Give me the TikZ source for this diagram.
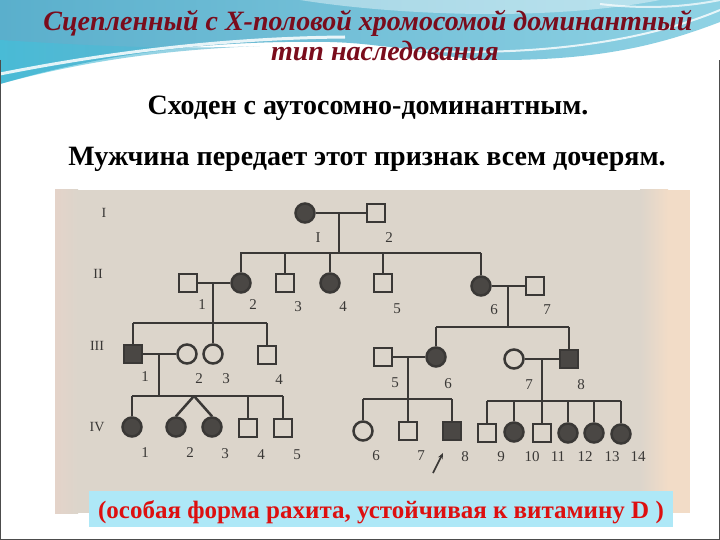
\documentclass[tikz,border=0pt]{standalone}
\usepackage{fontspec}
\setmainfont{Liberation Serif}
\usetikzlibrary{arrows.meta}
\definecolor{pedline}{HTML}{3A3836}
\definecolor{pedfill}{HTML}{4A4744}
\definecolor{scanbg}{HTML}{DCD5CB}
\definecolor{scanpeach}{HTML}{F2DCC7}
\definecolor{scanpink}{HTML}{E4D3C9}
\definecolor{titlered}{HTML}{7A0C1C}
\definecolor{capblue}{HTML}{AEE8F7}
\definecolor{capred}{HTML}{DD1010}
\definecolor{topA}{HTML}{5AAFCC}
\definecolor{topB}{HTML}{8FD2E4}
\definecolor{topC}{HTML}{3FC3DD}
\begin{document}
\begin{tikzpicture}[x=1pt,y=-1pt,
  male/.style={rectangle,draw=pedline,line width=2.5pt,minimum size=18pt,inner sep=0pt,fill=scanbg},
  female/.style={circle,draw=pedline,line width=2.5pt,minimum size=19pt,inner sep=0pt,fill=scanbg},
  aff/.style={fill=pedfill},
  rel/.style={draw=pedline,line width=2.5pt},
  lbl/.style={font=\fontsize{15}{15}\selectfont,text=pedline,inner sep=0pt,anchor=base},
  genlbl/.style={font=\fontsize{14}{14}\selectfont,text=pedline,inner sep=0pt,anchor=base},
  ]
\useasboundingbox (0,0) rectangle (720,540);
\fill[white] (0,0) rectangle (720,540);
% top decorative background
\shade[left color=topA, right color=topB] (0,0) -- (720,0) -- (720,22)
  .. controls (660,45) and (600,60) .. (500,60)
  .. controls (440,60) and (400,44) .. (330,42)
  .. controls (200,40) and (100,55) .. (0,84) -- cycle;
\shade[left color=topC, right color=topA, opacity=0.6] (0,40) .. controls (80,45) and (160,50) .. (260,46)
  .. controls (160,50) and (80,62) .. (0,84) -- cycle;
\fill[white,opacity=0.4] (300,0) .. controls (350,8) and (420,14) .. (490,14)
  .. controls (560,14) and (620,8) .. (660,0) -- cycle;
\draw[white,line width=3pt,opacity=0.85] (0,74) .. controls (100,54) and (220,38) .. (345,37);
\draw[white,line width=2pt,opacity=0.8] (380,47) .. controls (480,58) and (620,52) .. (720,10);
\draw[white,line width=2pt,opacity=0.7] (600,4) .. controls (650,10) and (690,6) .. (720,0);
% frame
\draw[gray!60!black,line width=1pt] (0.5,60) -- (0.5,539.5) -- (719.5,539.5) -- (719.5,60);
% titles
\node[font=\fontsize{28}{28}\selectfont\bfseries\itshape,text=titlered,inner sep=0pt,anchor=base] (title1) at (368,31) {Сцепленный с Х-половой хромосомой доминантный};
\node[font=\fontsize{28}{28}\selectfont\bfseries\itshape,text=titlered,inner sep=0pt,anchor=base] (title2) at (385,61) {тип наследования};
\node[font=\fontsize{28}{28}\selectfont\bfseries,inner sep=0pt,anchor=base] (line1) at (368,115) {Сходен с аутосомно-доминантным.};
\node[font=\fontsize{28}{28}\selectfont\bfseries,inner sep=0pt,anchor=base] (line2) at (367,166) {Мужчина передает этот признак всем дочерям.};
% scanned figure background
\fill[scanbg] (55,190) rectangle (690,513);
\shade[left color=scanpink,right color=scanbg] (55,190) rectangle (78,513);
\shade[left color=scanbg,right color=scanpeach] (640,190) rectangle (668,513);
\fill[scanpeach] (668,190) rectangle (690,513);
% generation labels
\node[genlbl] (gI) at (104,218) {I};
\node[genlbl] (gII) at (98,278) {II};
\node[genlbl] (gIII) at (97,350) {III};
\node[genlbl] (gIV) at (97,431) {IV};
% Generation I
\node[female,aff] (I1) at (305,213) {};
\node[male] (I2) at (376,213) {};
\draw[rel] (I1) -- (I2);
\coordinate (m1) at (339,213);
\coordinate (s1L) at (240,253);
\coordinate (s1R) at (481,253);
\draw[rel] (m1) -- (m1 |- s1L);
\draw[rel] (s1L) -- (s1R);
\node[lbl] (lI1) at (318,243) {I};
\node[lbl] (lI2) at (389,243) {2};
% Generation II
\node[male] (II1) at (188,283) {};
\node[female,aff] (II2) at (241,283) {};
\node[male] (II3) at (285,283) {};
\node[female,aff] (II4) at (330,283) {};
\node[male] (II5) at (383,283) {};
\node[female,aff] (II6) at (481,286) {};
\node[male] (II7) at (535,286) {};
\foreach \p in {II2,II3,II4,II5,II6} \draw[rel] (\p.north) -- (\p.north |- s1L);
\draw[rel] (II1) -- (II2);
\draw[rel] (II6) -- (II7);
\node[lbl] (lII1) at (202,309) {1};
\node[lbl] (lII2) at (253,309) {2};
\node[lbl] (lII3) at (298,311) {3};
\node[lbl] (lII4) at (343,311) {4};
\node[lbl] (lII5) at (397,313) {5};
\node[lbl] (lII6) at (494,314) {6};
\node[lbl] (lII7) at (547,314) {7};
% Generation III (left)
\coordinate (m2) at (213,283);
\coordinate (s2L) at (133,323);
\coordinate (s2R) at (267,323);
\node[male,aff] (III1) at (133,354) {};
\node[female] (III2) at (187,354) {};
\node[female] (III3) at (213,354) {};
\node[male] (III4) at (267,355) {};
\draw[rel] (m2) -- (III3.north);
\draw[rel] (s2L) -- (s2R);
\draw[rel] (III1.north) -- (III1.north |- s2L);
\draw[rel] (III4.north) -- (III4.north |- s2L);
\draw[rel] (III1) -- (III2);
\node[lbl] (lIII1) at (145,381) {1};
\node[lbl] (lIII2) at (199,383) {2};
\node[lbl] (lIII3) at (226,383) {3};
\node[lbl] (lIII4) at (279,384) {4};
% Generation IV (left)
\coordinate (m3) at (159,354);
\coordinate (s3L) at (132,396);
\coordinate (s3R) at (283,396);
\coordinate (tw) at (194,396);
\draw[rel] (m3) -- (m3 |- s3L);
\draw[rel] (s3L) -- (s3R);
\node[female,aff] (IV1) at (132,427) {};
\node[female,aff] (IV2) at (176,427) {};
\node[female,aff] (IV3) at (212,427) {};
\node[male] (IV4) at (248,428) {};
\node[male] (IV5) at (283,428) {};
\foreach \p in {IV1,IV4,IV5} \draw[rel] (\p.north) -- (\p.north |- s3L);
\draw[rel] (tw) -- (IV2.north);
\draw[rel] (tw) -- (IV3.north);
\node[lbl] (lIV1) at (145,457) {1};
\node[lbl] (lIV2) at (190,457) {2};
\node[lbl] (lIV3) at (225,458) {3};
\node[lbl] (lIV4) at (261,459) {4};
\node[lbl] (lIV5) at (297,459) {5};
% Generation III (right)
\coordinate (m4) at (508,286);
\coordinate (s4L) at (436,327);
\coordinate (s4R) at (569,327);
\draw[rel] (m4) -- (m4 |- s4L);
\draw[rel] (s4L) -- (s4R);
\node[male] (III5) at (383,357) {};
\node[female,aff] (III6) at (436,357) {};
\node[female] (III7) at (514,359) {};
\node[male,aff] (III8) at (569,359) {};
\draw[rel] (III6.north) -- (III6.north |- s4L);
\draw[rel] (III8.north) -- (III8.north |- s4L);
\draw[rel] (III5) -- (III6);
\draw[rel] (III7) -- (III8);
\node[lbl] (lIII5) at (395,387) {5};
\node[lbl] (lIII6) at (448,388) {6};
\node[lbl] (lIII7) at (529,389) {7};
\node[lbl] (lIII8) at (581,389) {8};
% Generation IV (right, family III5 x III6)
\coordinate (m5) at (408,357);
\coordinate (s5L) at (363,399);
\coordinate (s5R) at (452,399);
\node[female] (IV6) at (363,431) {};
\node[male] (IV7) at (408,431) {};
\node[male,aff] (IV8) at (452,431) {};
\draw[rel] (s5L) -- (s5R);
\draw[rel] (m5) -- (IV7.north);
\draw[rel] (IV6.north) -- (IV6.north |- s5L);
\draw[rel] (IV8.north) -- (IV8.north |- s5L);
\node[lbl] (lIV6) at (376,460) {6};
\node[lbl] (lIV7) at (421,460) {7};
\node[lbl] (lIV8) at (465,461) {8};
\coordinate (arA) at (433,473);
\coordinate (arB) at (443,453);
\draw[pedline,line width=1.6pt,-{Stealth[length=6pt,width=5pt]}] (arA) -- (arB);
% Generation IV (right, family III7 x III8)
\coordinate (m6) at (542,359);
\coordinate (s6L) at (487,401);
\coordinate (s6R) at (621,401);
\node[male] (IV9) at (487,433) {};
\node[female,aff] (IV10) at (514,432) {};
\node[male] (IV11) at (542,433) {};
\node[female,aff] (IV12) at (568,433) {};
\node[female,aff] (IV13) at (594,433) {};
\node[female,aff] (IV14) at (621,434) {};
\draw[rel] (s6L) -- (s6R);
\draw[rel] (m6) -- (IV11.north);
\foreach \p in {IV9,IV10,IV12,IV13,IV14} \draw[rel] (\p.north) -- (\p.north |- s6L);
\node[lbl] (lIV9) at (501,461) {9};
\node[lbl] (lIV10) at (532,461) {10};
\node[lbl] (lIV11) at (558,461) {11};
\node[lbl] (lIV12) at (585,461) {12};
\node[lbl] (lIV13) at (612,461) {13};
\node[lbl] (lIV14) at (638,461) {14};
% caption box
\node[fill=capblue,minimum width=584pt,minimum height=36pt,inner sep=0pt] (capbox) at (381,509) {};
\node[text=capred,font=\fontsize{25}{25}\selectfont\bfseries,inner sep=0pt,anchor=base] (cap) at (381,518) {(особая форма рахита, устойчивая к витамину D )};
\end{tikzpicture}
\end{document}
